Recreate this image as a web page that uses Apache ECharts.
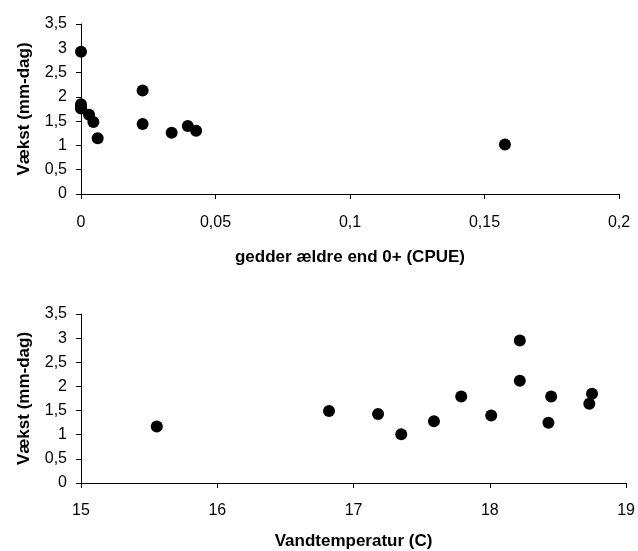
<!DOCTYPE html>
<html><head><meta charset="utf-8">
<script src="https://cdn.jsdelivr.net/npm/echarts@6/dist/echarts.min.js"></script>
<style>html,body{margin:0;padding:0;background:#fff}#c{width:638px;height:551px}</style>
</head><body><div id="c"></div>
<script>
// Top chart: pike older than 0+ (CPUE) vs growth
const cpueX = [0, 0, 0, 0, 0.003, 0.0046, 0.0062, 0.0229, 0.0229, 0.0337, 0.0397, 0.0428, 0.1576];
const cpueY = [2.93, 1.85, 1.79, 1.76, 1.63, 1.48, 1.15, 2.13, 1.44, 1.26, 1.40, 1.30, 1.02];
// Bottom chart: water temperature vs growth
const tempX = [15.556, 16.82, 17.18, 17.35, 17.59, 17.79, 18.01, 18.22, 18.22, 18.45, 18.43, 18.75, 18.73];
const tempY = [1.17, 1.49, 1.43, 1.01, 1.28, 1.79, 1.40, 2.95, 2.12, 1.79, 1.25, 1.85, 1.64];
const yTicks = [0, 0.5, 1, 1.5, 2, 2.5, 3, 3.5];
const yName = 'Vækst (mm-dag)';
const xName1 = 'gedder ældre end 0+ (CPUE)';
const xName2 = 'Vandtemperatur (C)';

const font = 'Liberation Sans, Arial, sans-serif';
const comma = v => String(+v.toFixed(3)).replace('.', ',');
const axisLine = {show: true, onZero: false, lineStyle: {color: '#000', width: 1}};
const axisTick = {show: true, length: 5, inside: false, lineStyle: {color: '#000'}};

function yAxis(gi) {
  return {
    type: 'value', gridIndex: gi, min: yTicks[0], max: yTicks[yTicks.length - 1], interval: 0.5,
    axisLine: axisLine, axisTick: axisTick, splitLine: {show: false},
    axisLabel: {formatter: comma, color: '#000', fontSize: 16, fontFamily: font, margin: 14},
    name: yName, nameLocation: 'middle', nameGap: 48, nameRotate: 90,
    nameTextStyle: {color: '#000', fontSize: 17, fontWeight: 'bold', fontFamily: font}
  };
}
function xAxis(gi, min, max, interval, name, gap, margin) {
  return {
    type: 'value', gridIndex: gi, min: min, max: max, interval: interval,
    axisLine: axisLine, axisTick: axisTick, splitLine: {show: false},
    axisLabel: {formatter: comma, color: '#000', fontSize: 16, fontFamily: font, margin: margin},
    name: name, nameLocation: 'middle', nameGap: gap,
    nameTextStyle: {color: '#000', fontSize: 17, fontWeight: 'bold', fontFamily: font}
  };
}

const chart = echarts.init(document.getElementById('c'), null, {renderer: 'canvas'});
chart.setOption({
  animation: false,
  backgroundColor: '#fff',
  grid: [
    {left: 81, top: 24, width: 538, height: 170},
    {left: 81, top: 314, width: 546.7, height: 170}
  ],
  xAxis: [
    xAxis(0, 0, 0.2, 0.05, xName1, 55, 21),
    xAxis(1, 15, 19, 1, xName2, 50, 20)
  ],
  yAxis: [yAxis(0), yAxis(1)],
  series: [
    {type: 'scatter', xAxisIndex: 0, yAxisIndex: 0, symbolSize: 12,
     itemStyle: {color: '#000', opacity: 1},
     data: cpueX.map((x, i) => [x, cpueY[i]])},
    {type: 'scatter', xAxisIndex: 1, yAxisIndex: 1, symbolSize: 12,
     itemStyle: {color: '#000', opacity: 1},
     data: tempX.map((x, i) => [x, tempY[i]])}
  ]
});
</script></body></html>
